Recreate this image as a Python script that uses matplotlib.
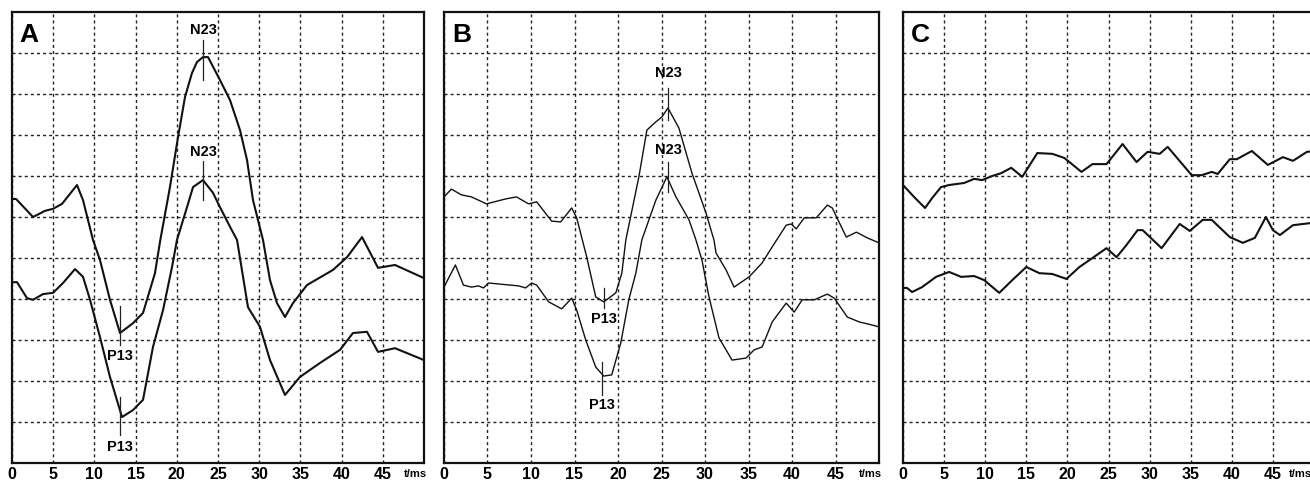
import matplotlib.pyplot as plt

plt.rcParams['font.family'] = ['Liberation Sans', 'DejaVu Sans']
plt.rcParams['font.weight'] = 'bold'

# x in ms, y in grid divisions (0 = bottom of panel)
a_t_up = [0, 0.49, 2.55, 4.0, 4.98, 6.07, 7.89, 8.62, 9.83, 10.68, 11.89, 13.11, 14.68, 15.9,
          17.35, 18.0, 19.17, 20.15, 21.0, 21.84, 22.45, 23.18, 23.79, 25.24, 26.46, 27.67,
          28.52, 29.25, 30.46, 31.31, 32.16, 33.13, 34.1, 35.8, 38.96, 40.66, 42.48, 44.42,
          46.48, 50]
a_y_up = [6.44, 6.44, 6.0, 6.15, 6.2, 6.32, 6.78, 6.41, 5.44, 4.95, 3.98, 3.17, 3.41, 3.66,
          4.63, 5.44, 6.73, 7.95, 8.93, 9.51, 9.78, 9.9, 9.9, 9.34, 8.85, 8.12,
          7.39, 6.41, 5.44, 4.46, 3.9, 3.56, 3.9, 4.34, 4.71, 5.02, 5.51, 4.76,
          4.83, 4.51]
a_t_lo = [0, 0.61, 1.82, 2.55, 3.76, 4.98, 6.19, 7.65, 8.62, 9.47, 10.68, 11.89, 13.35, 14.68,
          15.9, 17.11, 18.33, 19.42, 20.02, 21.24, 21.97, 23.18, 24.39, 25.24, 26.46, 27.31,
          28.64, 30.1, 31.31, 33.13, 34.95, 37.38, 39.81, 41.38, 43.08, 44.42, 46.48, 50]
a_y_lo = [4.41, 4.41, 4.02, 3.98, 4.12, 4.15, 4.39, 4.73, 4.54, 3.98, 3.07, 2.1, 1.12, 1.29,
          1.54, 2.83, 3.73, 4.78, 5.44, 6.24, 6.73, 6.9, 6.59, 6.24, 5.76, 5.44,
          3.8, 3.32, 2.51, 1.66, 2.1, 2.44, 2.76, 3.17, 3.2, 2.71, 2.8, 2.51]

b_t_up = [0, 0.85, 2.0, 3.16, 4.88, 7.07, 8.34, 9.72, 10.65, 12.37, 13.41, 14.68, 15.25, 16.41,
          17.44, 18.36, 19.75, 20.44, 20.9, 22.4, 23.32, 24.35, 25.05, 25.74, 27.0, 28.5,
          30.11, 31.03, 31.27, 32.42, 33.34, 35.07, 36.57, 37.72, 39.33, 39.91, 40.48, 41.41,
          42.79, 44.06, 44.63, 46.24, 47.4, 48.66, 50]
b_y_up = [6.49, 6.68, 6.54, 6.49, 6.32, 6.44, 6.49, 6.32, 6.37, 5.9, 5.88, 6.22, 5.98, 5.02,
          4.05, 3.93, 4.15, 4.63, 5.44, 6.98, 8.12, 8.32, 8.44, 8.66, 8.17, 7.07,
          6.1, 5.44, 5.12, 4.71, 4.29, 4.54, 4.88, 5.27, 5.8, 5.83, 5.71, 5.98,
          5.98, 6.29, 6.22, 5.51, 5.63, 5.49, 5.37]
b_t_lo = [0, 1.31, 2.23, 3.16, 3.96, 4.54, 5.12, 8.57, 9.38, 10.07, 10.65, 12.03, 13.53, 14.68,
          15.25, 16.29, 17.44, 18.36, 19.28, 20.32, 21.24, 22.05, 22.74, 24.35, 25.62, 26.66,
          28.16, 28.96, 29.65, 30.46, 31.61, 33.11, 34.72, 35.65, 36.57, 37.72, 39.33, 40.25,
          41.17, 42.56, 44.06, 44.86, 46.36, 47.74, 49.12, 50]
b_y_lo = [4.29, 4.83, 4.34, 4.29, 4.32, 4.27, 4.39, 4.32, 4.27, 4.39, 4.34, 3.93, 3.76, 4.02,
          3.73, 3.0, 2.34, 2.12, 2.15, 2.93, 3.98, 4.63, 5.44, 6.41, 6.98, 6.49,
          5.93, 5.44, 4.95, 4.05, 3.05, 2.51, 2.56, 2.76, 2.83, 3.44, 3.9, 3.68,
          3.98, 3.98, 4.12, 4.02, 3.56, 3.44, 3.37, 3.32]

c_t_up = [0, 1.34, 2.68, 3.54, 4.63, 5.61, 7.44, 8.66, 9.63, 10.85, 11.95, 13.17, 14.51, 16.34,
          18.17, 19.63, 21.71, 23.05, 24.76, 26.71, 28.41, 29.76, 31.22, 32.2, 35.12, 36.34,
          37.56, 38.29, 39.76, 40.61, 42.44, 44.39, 46.22, 47.44, 49.15, 50]
c_y_up = [6.78, 6.49, 6.22, 6.46, 6.73, 6.78, 6.83, 6.93, 6.9, 7.0, 7.07, 7.2, 6.98, 7.56,
          7.54, 7.44, 7.1, 7.29, 7.29, 7.78, 7.34, 7.59, 7.54, 7.71, 7.02, 7.02,
          7.1, 7.05, 7.41, 7.41, 7.61, 7.27, 7.46, 7.37, 7.59, 7.6]
c_t_lo = [0, 0.49, 1.1, 2.32, 4.02, 5.61, 7.07, 8.66, 9.88, 11.71, 13.29, 15.0, 16.59, 18.17,
          19.88, 21.46, 23.05, 24.76, 25.98, 27.2, 28.54, 29.15, 31.46, 33.66, 34.88, 36.46,
          37.56, 39.76, 41.34, 42.8, 44.15, 45.0, 45.85, 47.44, 49.5, 50]
c_y_lo = [4.27, 4.27, 4.17, 4.29, 4.54, 4.66, 4.54, 4.56, 4.46, 4.15, 4.46, 4.78, 4.63, 4.61,
          4.49, 4.78, 5.0, 5.24, 5.02, 5.32, 5.68, 5.68, 5.24, 5.83, 5.66, 5.93,
          5.93, 5.51, 5.37, 5.49, 6.0, 5.68, 5.56, 5.8, 5.85, 5.85]

xticks = [0, 5, 10, 15, 20, 25, 30, 35, 40, 45]
xlabels = ['0', '5', '10', '15', '20', '25', '30', '35', '40', '45']

# peak marks: (label, t, tick bottom, tick top, label y)
a_marks = [('N23', 23.2, 9.34, 10.32, 10.56), ('N23', 23.2, 6.41, 7.37, 7.59),
           ('P13', 13.1, 2.88, 3.83, 2.61), ('P13', 13.1, 0.68, 1.61, 0.39)]
b_marks = [('N23', 25.74, 8.37, 9.15, 9.51), ('N23', 25.74, 6.61, 7.34, 7.63),
           ('P13', 18.36, 3.78, 4.27, 3.51), ('P13', 18.13, 1.66, 2.46, 1.41)]

fig = plt.figure(figsize=(13.1, 4.8), dpi=100)


def panel(left, width, letter, unit_x=49.0):
    ax = fig.add_axes([left / 1310, 17 / 480, width / 1310, 451 / 480])
    ax.set_xlim(0, 50)
    ax.set_ylim(0, 11)
    ax.set_xticks(xticks)
    ax.set_xticklabels(xlabels, fontsize=11.5, fontweight='bold')
    ax.set_yticks(range(1, 11))
    ax.set_yticklabels([])
    ax.tick_params(length=0, pad=3)
    ax.grid(True, color='#222222', linestyle=(0, (2.2, 2.2)), linewidth=1.0)
    for s in ax.spines.values():
        s.set_linewidth(1.6)
        s.set_color('#111111')
    ax.text(0.95, 10.45, letter, fontsize=19, fontweight='bold', va='center', ha='left')
    ax.text(unit_x, -0.27, 't/ms', fontsize=8, fontweight='bold', ha='center', va='center',
            clip_on=False)
    return ax


def marks(ax, items):
    for lab, t, y0, y1, ly in items:
        ax.plot([t, t], [y0, y1], color='#222222', lw=0.9)
        ax.text(t, ly, lab, fontsize=10.5, fontweight='bold', ha='center', va='center')


line_kw = dict(color='#111111', solid_joinstyle='round', solid_capstyle='round')

ax_a = panel(12, 412, 'A')
ax_a.plot(a_t_up, a_y_up, lw=1.5, **line_kw)
ax_a.plot(a_t_lo, a_y_lo, lw=1.5, **line_kw)
marks(ax_a, a_marks)

ax_b = panel(444, 435, 'B')
ax_b.plot(b_t_up, b_y_up, lw=1.0, **line_kw)
ax_b.plot(b_t_lo, b_y_lo, lw=1.0, **line_kw)
marks(ax_b, b_marks)

ax_c = panel(903, 411, 'C', unit_x=48.4)
ax_c.plot(c_t_up, c_y_up, lw=1.5, **line_kw)
ax_c.plot(c_t_lo, c_y_lo, lw=1.5, **line_kw)

fig.savefig('out.png', dpi=100)
